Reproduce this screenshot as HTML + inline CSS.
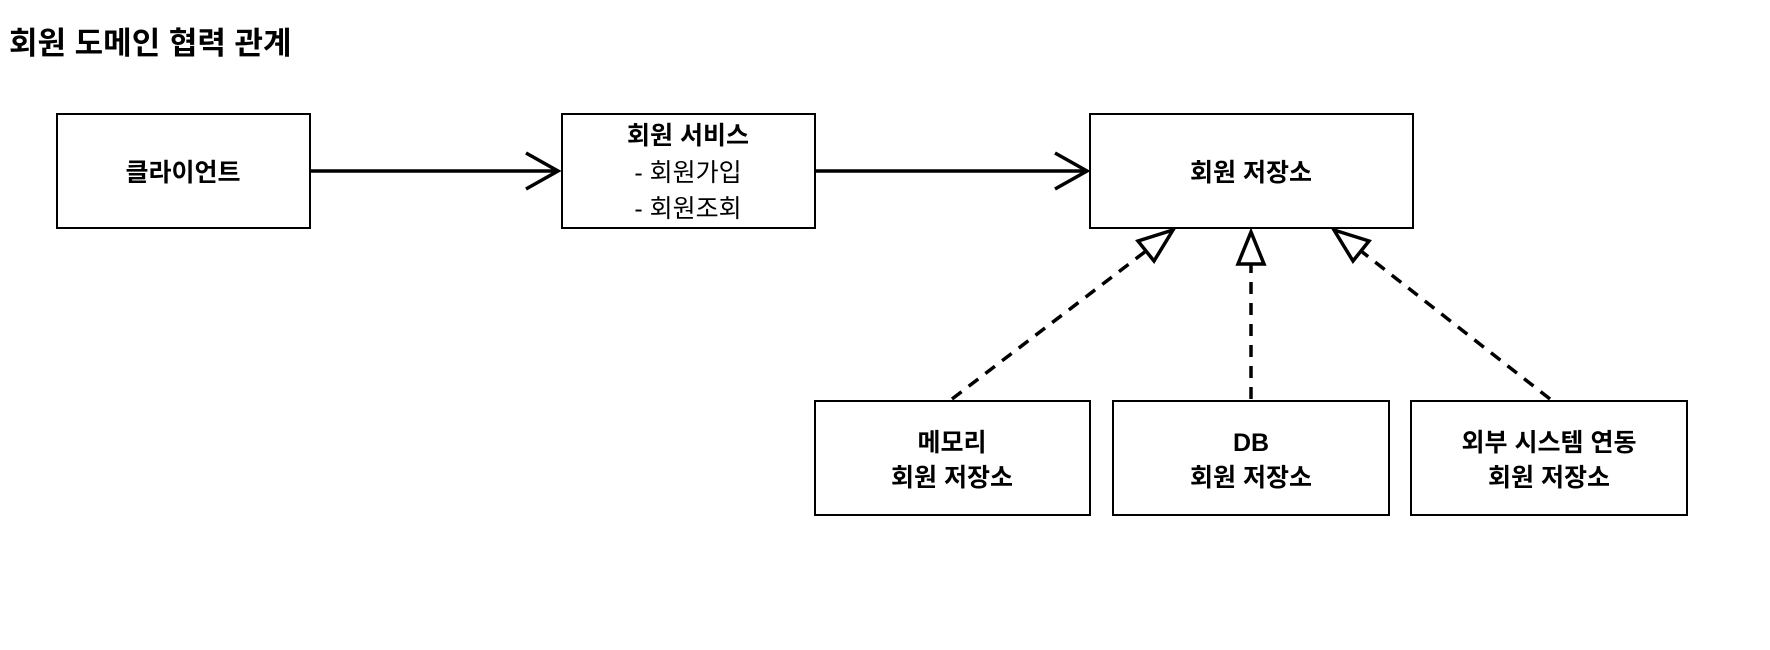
<!DOCTYPE html>
<html><head><meta charset="utf-8"><style>
html,body{margin:0;padding:0;background:#fff;width:1770px;height:650px;overflow:hidden}
svg text{font-family:"Liberation Sans","Noto Sans CJK KR",sans-serif;fill:#000}
</style></head><body>
<svg width="1770" height="650" viewBox="0 0 1770 650" xmlns="http://www.w3.org/2000/svg">
<text x="9" y="54" font-size="31" font-weight="bold">회원 도메인 협력 관계</text>
<g fill="#fff" stroke="#000" stroke-width="2">
<rect x="57" y="114" width="253" height="114"/>
<rect x="562" y="114" width="253" height="114"/>
<rect x="1090" y="114" width="323" height="114"/>
<rect x="815" y="401" width="275" height="114"/>
<rect x="1113" y="401" width="276" height="114"/>
<rect x="1411" y="401" width="276" height="114"/>
</g>
<g stroke="#000" stroke-width="3.5" fill="none">
<line x1="310" y1="171" x2="558" y2="171"/>
<polyline points="526,153 558,171 526,189"/>
<line x1="815" y1="171" x2="1087" y2="171"/>
<polyline points="1055,153 1087,171 1055,189"/>
<g stroke-dasharray="12,9">
<line x1="952" y1="399" x2="1146" y2="251"/>
<line x1="1251" y1="399" x2="1251" y2="264"/>
<line x1="1550" y1="399" x2="1361" y2="251"/>
</g>
<polygon points="1173,230 1154,261 1138,241" fill="#fff"/>
<polygon points="1251,232 1238,264 1264,264" fill="#fff"/>
<polygon points="1334,230 1369,241 1353,261" fill="#fff" transform="translate(0,0)"/>
</g>
<g font-size="25" text-anchor="middle">
<text x="183" y="181" font-weight="bold">클라이언트</text>
<text x="688" y="144" font-weight="bold">회원 서비스</text>
<text x="688" y="181">- 회원가입</text>
<text x="688" y="217">- 회원조회</text>
<text x="1251" y="181" font-weight="bold">회원 저장소</text>
<text x="952" y="451" font-weight="bold">메모리</text>
<text x="952" y="486" font-weight="bold">회원 저장소</text>
<text x="1251" y="451" font-weight="bold">DB</text>
<text x="1251" y="486" font-weight="bold">회원 저장소</text>
<text x="1549" y="451" font-weight="bold">외부 시스템 연동</text>
<text x="1549" y="486" font-weight="bold">회원 저장소</text>
</g>
</svg>
</body></html>
